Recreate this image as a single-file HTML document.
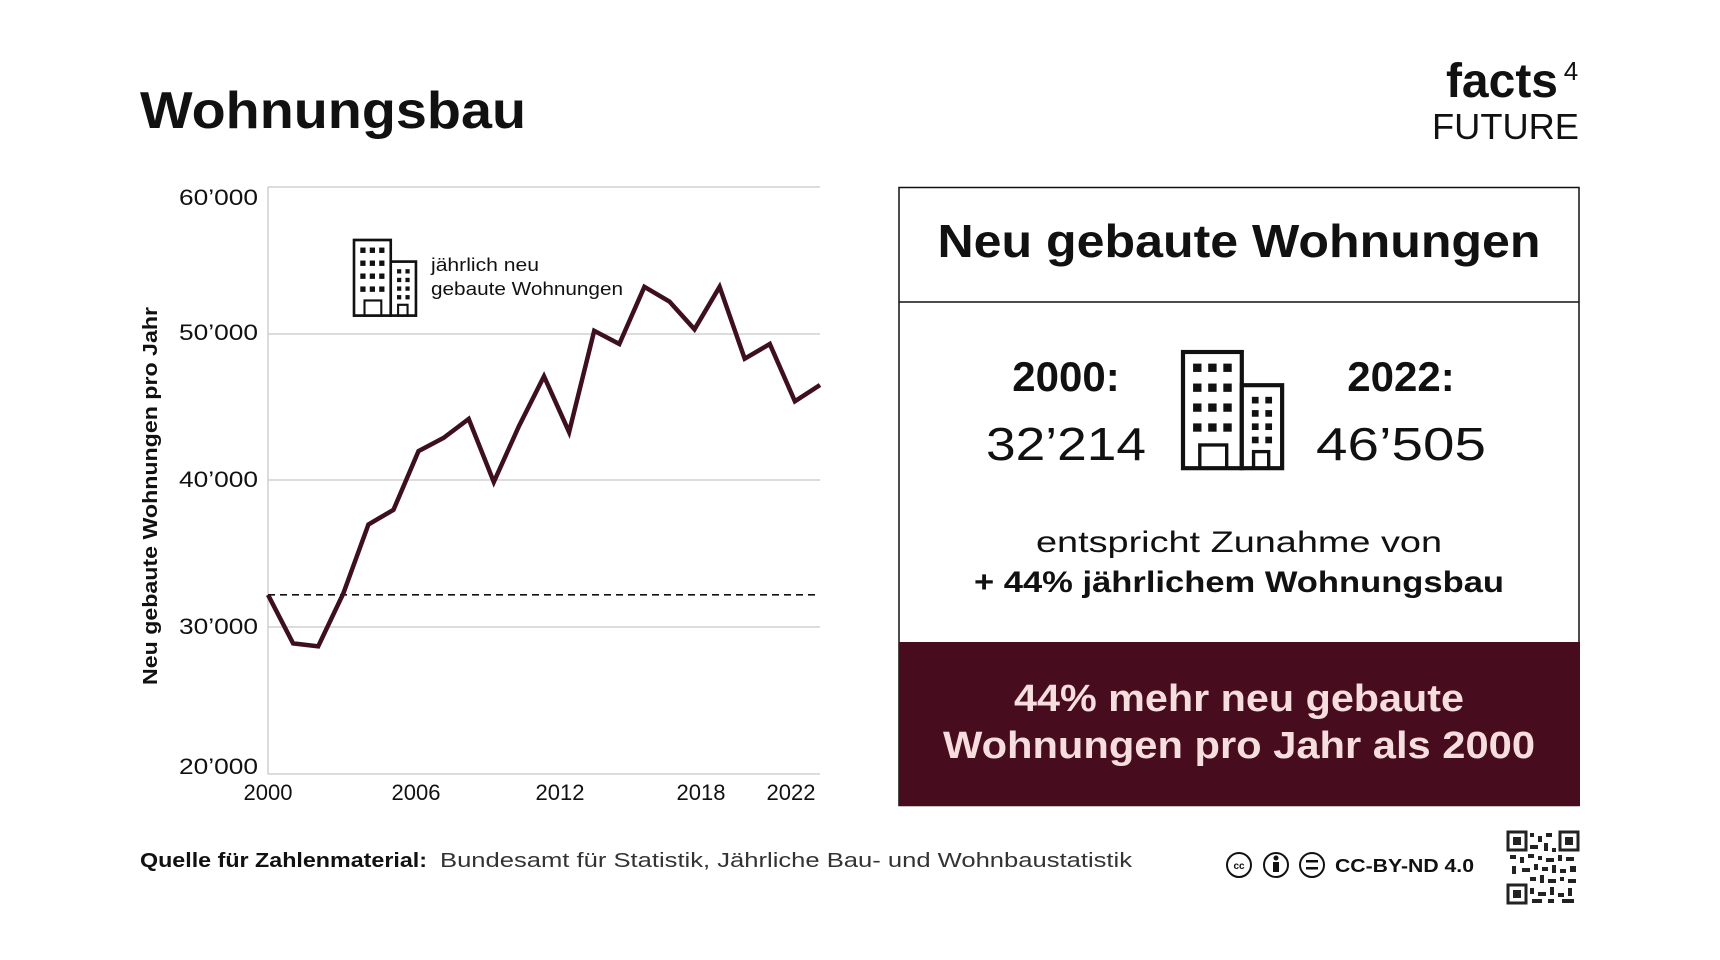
<!DOCTYPE html>
<html><head><meta charset="utf-8"><style>
html,body{margin:0;padding:0;background:#fff;}
svg{display:block;font-family:"Liberation Sans",Arial,sans-serif;}
</style></head><body>
<svg width="1720" height="960" viewBox="0 0 1720 960" xmlns="http://www.w3.org/2000/svg">
<defs>
<g id="bld">
  <rect x="0" y="0" width="35" height="70" fill="#fff" stroke="#111" stroke-width="2.5"/>
  <rect x="35" y="20" width="24" height="50" fill="#fff" stroke="#111" stroke-width="2.5"/>
  <g fill="#111">
    <rect x="6" y="7" width="5" height="5"/><rect x="15" y="7" width="5" height="5"/><rect x="24" y="7" width="5" height="5"/>
    <rect x="6" y="19" width="5" height="5"/><rect x="15" y="19" width="5" height="5"/><rect x="24" y="19" width="5" height="5"/>
    <rect x="6" y="31" width="5" height="5"/><rect x="15" y="31" width="5" height="5"/><rect x="24" y="31" width="5" height="5"/>
    <rect x="6" y="43" width="5" height="5"/><rect x="15" y="43" width="5" height="5"/><rect x="24" y="43" width="5" height="5"/>
    <rect x="41" y="27" width="4" height="4"/><rect x="49" y="27" width="4" height="4"/>
    <rect x="41" y="35" width="4" height="4"/><rect x="49" y="35" width="4" height="4"/>
    <rect x="41" y="43" width="4" height="4"/><rect x="49" y="43" width="4" height="4"/>
    <rect x="41" y="51" width="4" height="4"/><rect x="49" y="51" width="4" height="4"/>
  </g>
  <rect x="10" y="56" width="16" height="14" fill="none" stroke="#111" stroke-width="2"/>
  <rect x="42" y="60" width="9" height="10" fill="none" stroke="#111" stroke-width="2"/>
</g>
</defs>

<text x="140" y="128" font-size="52" font-weight="bold" fill="#111" textLength="386" lengthAdjust="spacingAndGlyphs">Wohnungsbau</text>

<text x="1558" y="97" font-size="48" font-weight="bold" fill="#111" text-anchor="end">facts</text>
<text x="1571" y="80" font-size="26" fill="#111" text-anchor="middle">4</text>
<text x="1579" y="139" font-size="36" fill="#111" text-anchor="end" textLength="147" lengthAdjust="spacingAndGlyphs">FUTURE</text>

<!-- grid -->
<g stroke="#c8c8c8" stroke-width="1.3">
  <line x1="268" y1="187" x2="820" y2="187"/>
  <line x1="268" y1="334" x2="820" y2="334"/>
  <line x1="268" y1="480" x2="820" y2="480"/>
  <line x1="268" y1="627" x2="820" y2="627"/>
  <line x1="268" y1="774" x2="820" y2="774"/>
  <line x1="268" y1="187" x2="268" y2="774"/>
</g>
<g font-size="22" fill="#111" text-anchor="end">
  <text x="258" y="205" textLength="79" lengthAdjust="spacingAndGlyphs">60’000</text>
  <text x="258" y="340" textLength="79" lengthAdjust="spacingAndGlyphs">50’000</text>
  <text x="258" y="487" textLength="79" lengthAdjust="spacingAndGlyphs">40’000</text>
  <text x="258" y="634" textLength="79" lengthAdjust="spacingAndGlyphs">30’000</text>
  <text x="258" y="774" textLength="79" lengthAdjust="spacingAndGlyphs">20’000</text>
</g>
<g font-size="22" fill="#111" text-anchor="middle">
  <text x="268" y="800">2000</text>
  <text x="416" y="800">2006</text>
  <text x="560" y="800">2012</text>
  <text x="701" y="800">2018</text>
  <text x="791" y="800">2022</text>
</g>
<text transform="translate(157,496) rotate(-90)" font-size="20" font-weight="bold" fill="#111" text-anchor="middle" textLength="378" lengthAdjust="spacingAndGlyphs">Neu gebaute Wohnungen pro Jahr</text>

<line x1="268" y1="594.8" x2="820" y2="594.8" stroke="#111" stroke-width="1.6" stroke-dasharray="7,5"/>
<polyline fill="none" stroke="#3d0f1f" stroke-width="4.5" stroke-linejoin="miter" points="268,594.8 293.1,643.4 318.2,646.3 343.3,593.5 368.4,524.5 393.5,509.8 418.5,451.1 443.6,437.9 468.7,418.9 493.8,482 518.9,426.2 544,376.3 569.1,432.1 594.2,330.8 619.3,344 644.4,286.8 669.4,301.5 694.5,329.3 719.6,286.8 744.7,358.7 769.8,344 794.9,401.3 820,385"/>

<use href="#bld" transform="translate(354,240) scale(1.05,1.08)"/>
<text x="431" y="271" font-size="18" fill="#111" textLength="108" lengthAdjust="spacingAndGlyphs">jährlich neu</text>
<text x="431" y="295" font-size="18" fill="#111" textLength="192" lengthAdjust="spacingAndGlyphs">gebaute Wohnungen</text>

<!-- right box -->
<rect x="899" y="187.5" width="680" height="618" fill="#fff" stroke="#111" stroke-width="1.5"/>
<line x1="899" y1="302" x2="1579" y2="302" stroke="#111" stroke-width="1.5"/>
<rect x="899" y="642" width="681" height="164" fill="#470c1e"/>
<text x="1239" y="257" font-size="46" font-weight="bold" fill="#111" text-anchor="middle" textLength="603" lengthAdjust="spacingAndGlyphs">Neu gebaute Wohnungen</text>

<text x="1066" y="391" font-size="42" font-weight="bold" fill="#111" text-anchor="middle">2000:</text>
<text x="1066" y="460" font-size="46" fill="#111" text-anchor="middle" textLength="160" lengthAdjust="spacingAndGlyphs">32’214</text>
<text x="1401" y="391" font-size="42" font-weight="bold" fill="#111" text-anchor="middle">2022:</text>
<text x="1401" y="460" font-size="46" fill="#111" text-anchor="middle" textLength="170" lengthAdjust="spacingAndGlyphs">46’505</text>
<use href="#bld" transform="translate(1183,352) scale(1.68,1.66)"/>

<text x="1239" y="552" font-size="30" fill="#111" text-anchor="middle" textLength="406" lengthAdjust="spacingAndGlyphs">entspricht Zunahme von</text>
<text x="1239" y="592" font-size="30" font-weight="bold" fill="#111" text-anchor="middle" textLength="530" lengthAdjust="spacingAndGlyphs">+ 44% jährlichem Wohnungsbau</text>

<text x="1239" y="711" font-size="38" font-weight="bold" fill="#f6dede" text-anchor="middle" textLength="450" lengthAdjust="spacingAndGlyphs">44% mehr neu gebaute</text>
<text x="1239" y="758" font-size="38" font-weight="bold" fill="#f6dede" text-anchor="middle" textLength="592" lengthAdjust="spacingAndGlyphs">Wohnungen pro Jahr als 2000</text>

<!-- footer -->
<text x="140" y="867" font-size="20" font-weight="bold" fill="#111" textLength="287" lengthAdjust="spacingAndGlyphs">Quelle für Zahlenmaterial:</text>
<text x="440" y="867" font-size="20" fill="#333" textLength="692" lengthAdjust="spacingAndGlyphs">Bundesamt für Statistik, Jährliche Bau- und Wohnbaustatistik</text>

<g fill="none" stroke="#111" stroke-width="2">
  <circle cx="1239" cy="865" r="12"/>
  <circle cx="1276" cy="865" r="12"/>
  <circle cx="1312" cy="865" r="12"/>
</g>
<text x="1239" y="869" font-size="10" font-weight="bold" fill="#111" text-anchor="middle">cc</text>
<circle cx="1276" cy="858" r="2.5" fill="#111"/>
<rect x="1273" y="862" width="6" height="10" fill="#111"/>
<rect x="1306" y="860" width="12" height="2.5" fill="#111"/>
<rect x="1306" y="867" width="12" height="2.5" fill="#111"/>
<text x="1335" y="872" font-size="18" font-weight="bold" fill="#111" textLength="139" lengthAdjust="spacingAndGlyphs">CC-BY-ND 4.0</text>

<!-- QR -->
<g fill="#222">
  <rect x="1507" y="831" width="72" height="73" fill="#fff"/>
  <rect x="1508" y="832" width="18" height="18" fill="none" stroke="#222" stroke-width="3"/>
  <rect x="1513" y="837" width="8" height="8"/>
  <rect x="1560" y="832" width="18" height="18" fill="none" stroke="#222" stroke-width="3"/>
  <rect x="1565" y="837" width="8" height="8"/>
  <rect x="1508" y="885" width="18" height="18" fill="none" stroke="#222" stroke-width="3"/>
  <rect x="1513" y="890" width="8" height="8"/>
  <rect x="1530" y="833" width="4" height="4"/><rect x="1538" y="836" width="4" height="6"/><rect x="1546" y="833" width="6" height="4"/>
  <rect x="1530" y="845" width="8" height="4"/><rect x="1544" y="843" width="4" height="8"/><rect x="1552" y="848" width="4" height="4"/>
  <rect x="1510" y="855" width="6" height="4"/><rect x="1520" y="857" width="4" height="6"/><rect x="1528" y="854" width="6" height="4"/>
  <rect x="1538" y="856" width="4" height="4"/><rect x="1546" y="858" width="8" height="4"/><rect x="1558" y="855" width="4" height="6"/>
  <rect x="1566" y="857" width="8" height="4"/><rect x="1512" y="866" width="4" height="8"/><rect x="1522" y="868" width="8" height="4"/>
  <rect x="1534" y="864" width="4" height="6"/><rect x="1542" y="867" width="6" height="4"/><rect x="1552" y="865" width="4" height="8"/>
  <rect x="1560" y="869" width="6" height="4"/><rect x="1570" y="866" width="6" height="6"/><rect x="1530" y="877" width="6" height="4"/>
  <rect x="1540" y="875" width="4" height="8"/><rect x="1548" y="879" width="8" height="4"/><rect x="1560" y="877" width="4" height="4"/>
  <rect x="1568" y="879" width="8" height="4"/><rect x="1530" y="888" width="4" height="6"/><rect x="1538" y="892" width="8" height="4"/>
  <rect x="1550" y="887" width="4" height="8"/><rect x="1558" y="893" width="6" height="4"/><rect x="1568" y="888" width="4" height="8"/>
  <rect x="1532" y="899" width="10" height="4"/><rect x="1548" y="899" width="6" height="4"/><rect x="1562" y="899" width="12" height="4"/>
</g>
</svg>
</body></html>
